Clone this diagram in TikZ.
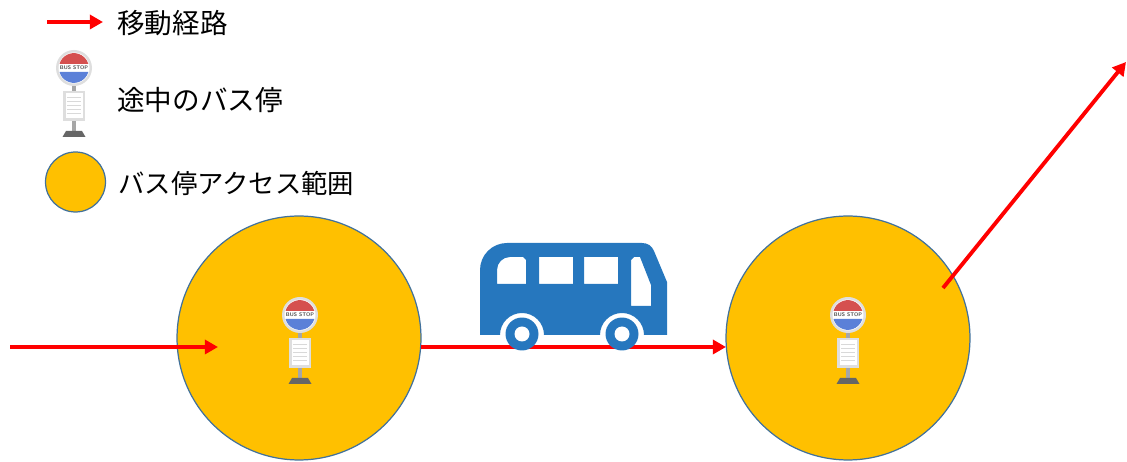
\documentclass[tikz,border=0pt]{standalone}
\usepackage{fontspec}
\usepackage{xcolor}
\newfontfamily\jpfont{Noto Sans CJK JP}
\usetikzlibrary{positioning}
\usetikzlibrary{arrows.meta}
\definecolor{zonefill}{HTML}{FFC000}
\definecolor{zonerim}{HTML}{41719C}
\definecolor{busblue}{HTML}{2677BE}
\definecolor{signred}{HTML}{D5504F}
\definecolor{signblue}{HTML}{5B80D8}
\definecolor{signgrey}{HTML}{DEDEDE}
\tikzset{
	stop sign/.pic={
		\fill[gray!70] (-2,17) rectangle (2,64);
		\fill[signgrey] (-11,23) rectangle (11,53);
		\fill[white] (-8.5,25.5) rectangle (8.5,50.5);
		\foreach \y in {29,33,37,41,45} {
			\draw[gray!30, line width=0.3pt] (-7,\y) -- (7,\y);
		}
		\fill[black!60] (-8,63) -- (8,63) -- (11.5,69) -- (-11.5,69) -- cycle;
		\fill[signgrey] (0,0) circle (18);
		\fill[white] (0,0) circle (15.5);
		\fill[signred] (-14.5,-4) arc (196:344:15) -- cycle;
		\fill[signblue] (-14.5,4) arc (164:16:15) -- cycle;
		\node[font=\sffamily\bfseries\fontsize{3}{4}\selectfont, text=black!70, inner sep=0pt] (stoptext) at (0,0) {BUS STOP};
	}
}
\begin{document}
\begin{tikzpicture}[x=0.02cm, y=-0.02cm,
		zone/.style={circle, draw=zonerim, fill=zonefill, line width=0.7pt, inner sep=0pt},
		route/.style={red, line width=2.2pt, -{Triangle[length=7.5pt, width=8pt]}},
		legend text/.style={anchor=west, inner sep=0pt, font=\jpfont\fontsize{15.7}{18}\selectfont}
		]
		\useasboundingbox (0,0) rectangle (1127,462);

		% legend
		\coordinate (keyfrom) at (47,22);
		\coordinate (keyto) at (103,22);
		\draw[route] (keyfrom) -- (keyto);
		\node[legend text] (keyroute) at (117,23) {移動経路};
		\begin{scope}[shift={(74,68)}, xscale=1.06]
			\pic {stop sign};
		\end{scope}
		\node[legend text] (keystop) at (117,100) {途中のバス停};
		\node[zone, minimum size=1.2cm] (keyzone) at (75.5,182) {};
		\node[legend text, font=\jpfont\fontsize{15}{18}\selectfont] (keyarea) at (118,183) {バス停アクセス範囲};

		% zones
		\node[zone, minimum size=4.88cm] (zone1) at (299,338) {};
		\node[zone, minimum size=4.88cm] (zone2) at (848,338) {};
		\coordinate (start) at (10,347);
		\coordinate (inzone1) at (218,347);
		\coordinate (outzone1) at (421,347);
		\coordinate (inzone2) at (726,347);
		\coordinate (outzone2) at (943,288);
		\coordinate (finish) at (1126,62);

		% bus body, the arcs leave room for the wheels
		\fill[busblue, even odd rule]
			(480,335) -- (480,270) arc (180:270:27) -- (642,243)
			to[out=0, in=112] (654,251) -- (667,282) -- (667,335) -- (644,335)
			arc (0:-180:22) -- (544,335) arc (0:-180:22) -- cycle
			(497,284) -- (497,270) arc (180:270:13) -- (523,257) -- (526,260) -- (526,284) -- cycle
			(539,257) rectangle (573,284)
			(584,257) rectangle (618,284)
			(631,260) -- (634,257) -- (640,257) -- (651,285) -- (651,306) -- (631,306) -- cycle;

		\draw[route] (start) -- (inzone1);
		\draw[route] (outzone1) -- (inzone2);
		\draw[route] (outzone2) -- (finish);

		\node[circle, fill=busblue, minimum size=0.66cm, inner sep=0pt] (wheel1) at (522,334) {};
		\node[circle, fill=busblue, minimum size=0.66cm, inner sep=0pt] (wheel2) at (622,334) {};
		\fill[white] (wheel1) circle (7.5);
		\fill[white] (wheel2) circle (7.5);

		% stops
		\pic at (300,315) {stop sign};
		\pic at (848,315) {stop sign};
	\end{tikzpicture}
\end{document}
